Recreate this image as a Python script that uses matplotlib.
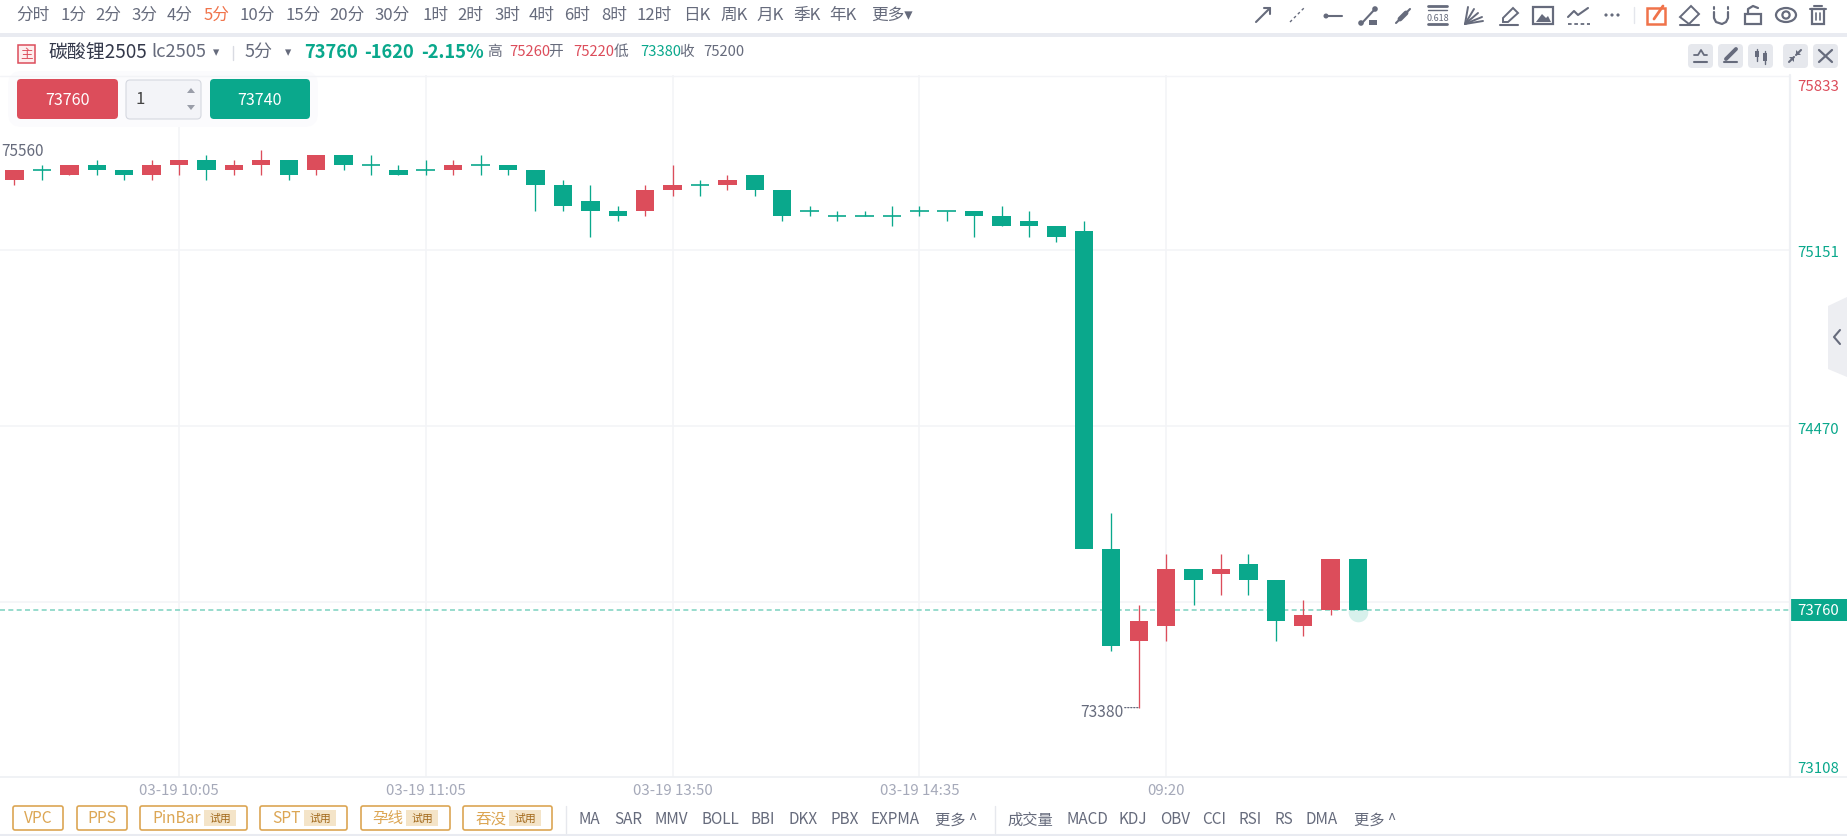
import matplotlib
matplotlib.use("Agg")
import matplotlib.pyplot as plt
from matplotlib.patches import FancyBboxPatch, Rectangle, Polygon, Circle, Ellipse

plt.rcParams['font.family'] = ['Noto Sans CJK SC', 'DejaVu Sans']

# ---- data ----
opens = [75440,75480,75460,75500,75480,75460,75500,75520,75480,75500,
         75520,75480,75540,75500,75480,75480,75480,75500,75500,75480,
         75420,75360,75320,75320,75400,75420,75420,75460,75400,75320,
         75300,75300,75300,75320,75320,75320,75300,75280,75260,75240,
         74000,73640,73700,73920,73900,73940,73880,73700,73760,73960]
closes = [75480,75480,75500,75480,75460,75500,75520,75480,75500,75520,
          75460,75540,75500,75500,75460,75480,75500,75500,75480,75420,
          75340,75320,75300,75400,75420,75420,75440,75400,75300,75320,
          75300,75300,75300,75320,75320,75300,75260,75260,75220,74000,
          73620,73720,73920,73880,73920,73880,73720,73740,73960,73760]
highs = [75480,75500,75500,75520,75480,75520,75520,75540,75520,75560,
         75520,75540,75540,75540,75500,75520,75520,75540,75500,75480,
         75440,75420,75340,75420,75500,75440,75460,75460,75400,75340,
         75320,75320,75340,75340,75320,75320,75340,75320,75260,75280,
         74140,73780,73980,73920,73980,73980,73880,73800,73960,73960]
lows = [75420,75440,75460,75460,75440,75440,75460,75440,75460,75460,
        75440,75460,75480,75460,75460,75460,75460,75460,75460,75320,
        75320,75220,75280,75300,75380,75380,75400,75380,75280,75300,
        75280,75300,75260,75300,75280,75220,75260,75220,75200,75220,
        73600,73380,73640,73780,73820,73820,73640,73660,73740,73760]

date_ticks = [6, 15, 24, 33, 42]
date_labels = ["03-19 10:05", "03-19 11:05", "03-19 13:50", "03-19 14:35", "09:20"]
grid_prices = [75168, 74480, 73792]
last_price = 73760
high_note = 75560
low_note = 73380

period_labels = ["分时","1分","2分","3分","4分","5分","10分","15分","20分","30分","1时","2时","3时","4时","6时","8时","12时","日K","周K","月K","季K","年K","更多▾"]
period_x = [33,73,108,144,180,217,257,303,347,392,435,470,507,542,577,614,654,697,734,770,807,843,892]
ind_labels = ["MA","SAR","MMV","BOLL","BBI","DKX","PBX","EXPMA","更多 ^","成交量","MACD","KDJ","OBV","CCI","RSI","RS","DMA","更多 ^"]
ind_x = [589,628,671,720,763,803,845,895,956,1030,1087,1133,1175,1214,1250,1284,1322,1375]
tag_labels = ["VPC","PPS","PinBar","SPT","孕线","吞没"]
tag_boxes = [(13,63),(77,127),(140,247),(260,347),(361,450),(463,552)]
tag_badges = [None,None,204,304,406,509]

GREEN = "#0aa88c"
RED = "#dc4d5b"
GREY = "#666b7c"
DARK = "#5f6475"
LIGHT = "#a5a9b9"
ORANGE = "#f0734a"
GOLD = "#dca654"
BAND = "#e9ebf1"
GRID = "#f3f4f7"

W, H = 1847, 837
fig = plt.figure(figsize=(W/100, H/100), dpi=100, facecolor="white")

# ---- chart axes (price / bar index scales) ----
CL, CR, CT, CB = 0, 1790, 76, 778
ax = fig.add_axes([CL/W, 1-CB/H, (CR-CL)/W, (CB-CT)/H])
STEP, X0 = 27.42, 14.5
ax.set_xlim((CL-X0)/STEP, (CR-X0)/STEP)
ax.set_ylim(73109, 75851)
ax.axis("off")
for p in grid_prices:
    ax.axhline(p, color=GRID, lw=1.1, zorder=0)
for t in date_ticks:
    ax.axvline(t, color=GRID, lw=1.1, zorder=0)
ax.axhline(last_price, color="#86d5c5", lw=1.2, ls=(0, (3, 2)), zorder=1)
for i, (o, c, h, l) in enumerate(zip(opens, closes, highs, lows)):
    col = RED if c > o else GREEN
    ax.plot([i, i], [l, h], color=col, lw=0.95, solid_capstyle="butt", zorder=2)
    top, bot = max(o, c), min(o, c)
    if top == bot:
        ax.plot([i-0.34, i+0.34], [top, top], color=col, lw=1.2, solid_capstyle="butt", zorder=3)
    else:
        ax.add_patch(Rectangle((i-0.335, bot), 0.67, top-bot, fc=col, ec="none", zorder=3))
last_i = len(closes)-1
ax.scatter([last_i], [closes[last_i]-8], s=200, color=GREEN, alpha=0.16, lw=0, zorder=2.5)
ax.annotate(str(high_note), (0, high_note), xytext=(-13, -1), xycoords="data",
            textcoords="offset pixels", ha="left", va="center", fontsize=11, color=GREY, zorder=5)
low_i = lows.index(low_note)
ax.annotate(str(low_note), (low_i, low_note), xytext=(-15, -4), textcoords="offset pixels",
            ha="right", va="center", fontsize=11.2, color=GREY, zorder=5)
ax.annotate("", (low_i, low_note), xytext=(-14, 0), textcoords="offset pixels",
            arrowprops=dict(arrowstyle="-", color=GREY, lw=0.9, ls=(0, (1, 1.4)), shrinkA=0, shrinkB=0))

# ---- interface overlay (pixel coordinates) ----
ui = fig.add_axes([0, 0, 1, 1], zorder=10)
ui.set_xlim(0, W); ui.set_ylim(H, 0); ui.axis("off"); ui.patch.set_alpha(0)

def T(x, y, s, size=12, color=GREY, ha="center", weight="normal"):
    ui.text(x, y, s, fontsize=size, color=color, ha=ha, va="center", fontweight=weight, zorder=6)
def L(xs, ys, color=GREY, lw=1.5, ls="-"):
    ui.plot(xs, ys, color=color, lw=lw, ls=ls, solid_capstyle="round", zorder=5)
def RB(x0, y0, x1, y1, fc="white", ec="none", lw=1, r=3, z=2):
    ui.add_patch(FancyBboxPatch((x0+r, y0+r), x1-x0-2*r, y1-y0-2*r,
                 boxstyle=f"round,pad={r},rounding_size={r}", fc=fc, ec=ec, lw=lw, zorder=z))
def P(pts, fc=GREY):
    ui.add_patch(Polygon(pts, fc=fc, ec="none", zorder=5))
def Rc(x, y, w, h, fc=GREY, ec="none", lw=0, z=5):
    ui.add_patch(Rectangle((x, y), w, h, fc=fc, ec=ec, lw=lw, zorder=z))

# separators
Rc(0, 34, W, 4, fc=BAND, z=1)
L([0, 1790], [76.5, 76.5], color=GRID, lw=1)
L([1790, 1790], [76, 778], color="#eef0f4", lw=1.6)
L([0, W], [778, 778], color="#eef0f4", lw=1.2)
L([0, W], [836, 836], color=BAND, lw=1.5)

# period selector
for s, x in zip(period_labels, period_x):
    T(x, 15, s, color=ORANGE if s == "5分" else GREY)

# drawing tools
L([1256, 1270], [23, 9]); L([1264, 1270, 1270], [9, 9, 15])
L([1290, 1304], [23, 9], lw=1, ls=(0, (2, 2)))
L([1326, 1342], [17, 17]); ui.add_patch(Circle((1326, 17), 2.5, fc=GREY, zorder=5))
L([1362, 1375], [24, 10]); ui.add_patch(Circle((1361, 24), 2.8, fc=GREY, zorder=5)); ui.add_patch(Circle((1375, 10), 2.8, fc=GREY, zorder=5))
Rc(1369, 21, 8, 5)
L([1396, 1410], [24, 10]); L([1400, 1406], [20, 14], lw=3.5)
L([1428, 1447], [7, 7], lw=2); L([1428, 1447], [11, 11], lw=1); L([1428, 1447], [25, 25], lw=2)
T(1437.5, 18, "0.618", size=6.5)
for dx, dy in [(3, -17), (9, -15), (13, -11), (17, -7), (18, -3)]:
    L([1465, 1465+dx], [25, 25+dy], lw=1.4)
ui.add_patch(Polygon([[1503, 19], [1513, 9], [1518, 14], [1508, 23], [1503, 23]], fc="white", ec=GREY, lw=1.4, zorder=5))
L([1500, 1518], [26, 26])
Rc(1533, 8, 20, 17, fc="white", ec=GREY, lw=1.6)
P([[1536, 23], [1542, 15], [1546, 19], [1548, 17], [1551, 23]])
L([1568, 1574, 1578, 1588], [18, 12, 16, 9]); L([1568, 1590], [25, 25], lw=1.3, ls=(0, (2, 1.5)))
for dx in [1606, 1612, 1618]:
    ui.add_patch(Circle((dx, 16), 1.6, fc=GREY, zorder=5))
L([1634, 1634], [8, 24], color="#e4e6ec", lw=1)
Rc(1647, 9, 18, 16, fc="white", ec=ORANGE, lw=1.8)
L([1654, 1663], [20, 7], color=ORANGE, lw=2)
ui.add_patch(Polygon([[1680, 18], [1691, 7], [1699, 15], [1689, 25]], fc="white", ec=GREY, lw=1.4, zorder=5))
L([1680, 1699], [26, 26])
L([1714, 1714, 1716, 1722, 1726, 1728, 1728], [13, 19, 23, 25, 23, 19, 13], lw=1.6)
L([1714, 1714], [8, 10]); L([1728, 1728], [8, 10])
Rc(1745, 15, 16, 10, fc="white", ec=GREY, lw=1.6)
L([1748, 1748, 1753, 1758], [15, 10, 7, 9], lw=1.6)
ui.add_patch(Ellipse((1786, 16), 20, 14, fc="white", ec=GREY, lw=1.6, zorder=5))
ui.add_patch(Circle((1786, 16), 3.6, fc="white", ec=GREY, lw=1.6, zorder=5))
L([1810, 1826], [10, 10]); L([1814, 1822], [7, 7])
Rc(1812, 10, 12, 15, fc="white", ec=GREY, lw=1.6)
L([1816, 1816], [14, 21], lw=1.2); L([1820, 1820], [14, 21], lw=1.2)

# instrument row
Rc(18, 46, 17, 18, fc="#fdeeee", ec=RED, lw=1.1)
T(26.5, 55, "主", size=9, color=RED)
T(48, 52, "碳酸锂2505", size=13.6, color="#33384a", ha="left")
T(151, 52, "lc2505", size=13.2, color=GREY, ha="left")
T(216, 53, "▾", size=9, color=GREY)
L([233, 233], [47, 61], color="#d9dbe2", lw=1)
T(245, 52, "5分", size=13, color=GREY, ha="left")
T(288, 53, "▾", size=9, color=GREY)
T(304, 52, "73760", size=13.2, color=GREEN, ha="left", weight="bold")
T(364, 52, "-1620", size=13.2, color=GREEN, ha="left", weight="bold")
T(421, 52, "-2.15%", size=13.2, color=GREEN, ha="left", weight="bold")
for lab, lx, val, vx, col in [("高", 495, "75260", 509, RED), ("开", 556, "75220", 573, RED),
                              ("低", 621, "73380", 640, GREEN), ("收", 686, "75200", 703, GREY)]:
    T(lx, 52, lab, size=10.6, color=GREY)
    T(vx, 52, val, size=10.6, color=col, ha="left")

# chart header buttons
for x0 in [1688, 1718, 1748, 1783, 1813]:
    RB(x0, 45, x0+25, 69, fc="#e6e8ed", r=4)
L([1694, 1707], [63, 63]); L([1694, 1698, 1701, 1704, 1707], [56, 56, 51, 56, 56], lw=1.3)
L([1724, 1737], [63, 63]); L([1726, 1736], [60, 50], lw=2.8)
L([1757, 1757], [50, 62], lw=1); Rc(1755, 52, 4, 6)
L([1765, 1765], [52, 65], lw=1); Rc(1763, 54, 4, 8)
L([1789, 1794], [63, 58]); L([1796, 1801], [56, 51])
P([[1794, 58], [1794, 63], [1789, 58]]); P([[1796, 56], [1796, 51], [1801, 56]])
L([1819, 1832], [51, 63], lw=1.6); L([1832, 1819], [51, 63], lw=1.6)

# order panel
RB(8, 72, 318, 128, fc="#fbfbfd", r=14, z=1)
RB(17, 80, 118, 120, fc=RED, r=4)
RB(126, 81, 201, 120, fc="#f3f4f8", ec="#d5d8e0", lw=0.8, r=4)
RB(210, 80, 310, 120, fc=GREEN, r=4)
T(67, 100, "73760", color="white", size=11.6, weight="medium")
T(260, 100, "73740", color="white", size=11.6, weight="medium")
T(140, 99, "1", color="#444", size=12)
P([[187, 94], [195, 94], [191, 89]], fc="#9a9ea9")
P([[187, 106], [195, 106], [191, 111]], fc="#9a9ea9")

# price labels
for py, s, col in [(87, "75833", RED), (253, "75151", GREEN), (430, "74470", GREEN), (769, "73108", GREEN)]:
    T(1818, py, s, size=10.8, color=col)
Rc(1790, 600, 57, 22, fc=GREEN, z=3)
T(1818, 611, str(last_price), size=10.8, color="white", weight="medium")

# side handle
P([[1828, 307], [1847, 298], [1847, 378], [1828, 370]], fc="#edeef2")
L([1840, 1834, 1840], [331, 338, 345], lw=1.5)

# time labels
for t, s in zip(date_ticks, date_labels):
    T(X0+STEP*t, 791, s, size=10.8, color=LIGHT)

# strategy tags
for s, (x0, x1), b in zip(tag_labels, tag_boxes, tag_badges):
    RB(x0, 807, x1, 831, fc="white", ec=GOLD, lw=1.2, r=2)
    if b is None:
        T((x0+x1)/2, 819, s, size=11.2, color=GOLD)
    else:
        T(b-3, 819, s, size=11.2, color=GOLD, ha="right")
        Rc(b, 811, 32, 16, fc="#f4e4c8", z=3)
        T(b+16, 819, "试用", size=7.8, color="#a36a1c")
L([566, 566], [807, 834], color="#e6e8ed", lw=1)
L([995, 995], [807, 834], color="#e6e8ed", lw=1)

# indicators
for s, x in zip(ind_labels, ind_x):
    T(x, 820, s, size=11, color=GREY)

fig.savefig("out.png", dpi=100, facecolor="white")
